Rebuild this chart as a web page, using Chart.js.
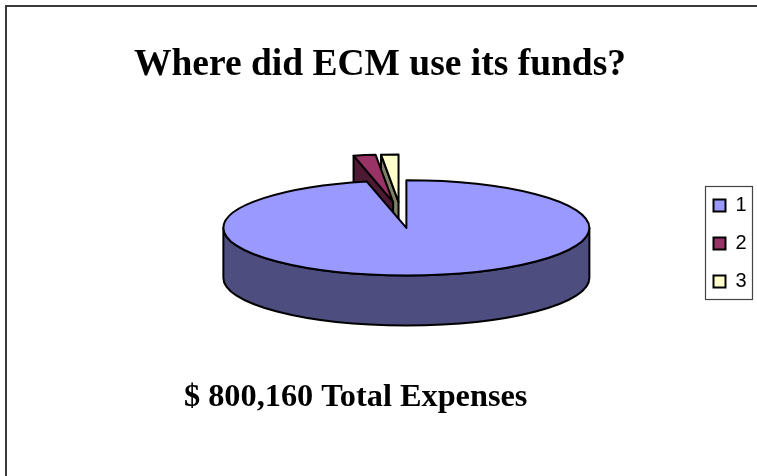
<!DOCTYPE html>
<html>
<head>
<meta charset="utf-8">
<style>
html,body{margin:0;padding:0;background:#fff;overflow:hidden}
#wrap{position:relative;width:757px;height:476px}
</style>
<script src="https://cdn.jsdelivr.net/npm/chart.js@4/dist/chart.umd.js"></script>
</head>
<body>
<div id="wrap"><canvas id="c" width="757" height="476"></canvas></div>
<script>
const categories = ['1', '2', '3'];
const expenses = [772400, 15560, 12200];
const titleText = 'Where did ECM use its funds?';
const totalText = '$ 800,160 Total Expenses';

const topColors = ['#9999FF', '#993366', '#FFFFCC'];
const sideColors = ['#4D4D80', '#4D1933', '#808066'];
const SQUASH = 0.26, DEPTH = 50, EXPLODE = 50, RADIUS = 183;

const pie3d = {
  id: 'pie3d',
  afterLayout(chart) {
    const lg = chart.legend;
    const w = lg.width, h = lg.height;
    lg.left = 695.5; lg.right = 695.5 + w; lg.top = 177.5; lg.bottom = 177.5 + h;
    chart.boxes.forEach(b => {
      if (b.options && b.options.text === totalText) b.left = 184;
      if (b.options && b.options.text === titleText) { b.left = 3; b.right = 757; }
    });
  },
  beforeDraw(chart) {
    const ctx = chart.ctx;
    ctx.save();
    ctx.strokeStyle = '#3a3a3a';
    ctx.lineWidth = 2;
    ctx.beginPath();
    ctx.moveTo(6, 476); ctx.lineTo(6, 6); ctx.lineTo(757, 6);
    ctx.stroke();
    ctx.lineWidth = 1.2;
    ctx.strokeStyle = '#444';
    ctx.strokeRect(705.5, 186.5, 47, 113);
    ctx.restore();
  },
  beforeDatasetsDraw(chart) {
    const ctx = chart.ctx;
    const arcs = chart.getDatasetMeta(0).data;
    ctx.save();
    ctx.lineJoin = 'round';
    ctx.lineWidth = 2;
    ctx.strokeStyle = '#000';
    const geom = arcs.map(a => {
      const mid = (a.startAngle + a.endAngle) / 2;
      return {
        a, r: a.outerRadius,
        x: a.x + Math.cos(mid) * EXPLODE,
        y: a.y + Math.sin(mid) * EXPLODE * SQUASH
      };
    });
    const pt = (g, ang) => [g.x + Math.cos(ang) * g.r, g.y + Math.sin(ang) * g.r * SQUASH];
    const shape = (fill) => { ctx.fillStyle = fill; ctx.fill(); ctx.stroke(); };
    // exploded back wedges first, large slice last
    [2, 1, 0].forEach(i => {
      const g = geom[i], a = g.a;
      if (i !== 0) {
        const p = pt(g, a.startAngle);
        ctx.beginPath();
        ctx.moveTo(p[0], p[1]);
        ctx.lineTo(g.x, g.y);
        ctx.lineTo(g.x, g.y + DEPTH);
        ctx.lineTo(p[0], p[1] + DEPTH);
        ctx.closePath();
        shape(sideColors[i]);
      } else {
        ctx.beginPath();
        ctx.ellipse(g.x, g.y, g.r, g.r * SQUASH, 0, Math.PI, 0, true);
        ctx.lineTo(g.x + g.r, g.y + DEPTH);
        ctx.ellipse(g.x, g.y + DEPTH, g.r, g.r * SQUASH, 0, 0, Math.PI, false);
        ctx.closePath();
        shape(sideColors[i]);
      }
      ctx.beginPath();
      ctx.moveTo(g.x, g.y);
      ctx.ellipse(g.x, g.y, g.r, g.r * SQUASH, 0, a.startAngle, a.endAngle, false);
      ctx.closePath();
      shape(topColors[i]);
    });
    ctx.restore();
    return false;
  }
};

new Chart(document.getElementById('c'), {
  type: 'pie',
  data: {
    labels: categories,
    datasets: [{ data: expenses, backgroundColor: topColors, borderColor: '#000', borderWidth: 1.5 }]
  },
  plugins: [pie3d],
  options: {
    responsive: false,
    animation: false,
    radius: RADIUS,
    layout: { padding: { left: 106, right: 0, top: 0, bottom: 0 } },
    plugins: {
      tooltip: { enabled: false },
      title: {
        display: true, text: titleText, color: '#000', align: 'center', position: 'top',
        font: { family: '"Liberation Serif"', size: 37.5, weight: 'bold' },
        padding: { top: 43, bottom: 0 }
      },
      subtitle: {
        display: true, text: totalText, color: '#000', align: 'start', position: 'bottom',
        font: { family: '"Liberation Serif"', size: 32.3, weight: 'bold' },
        padding: { top: 36.6, bottom: 58.6 }
      },
      legend: {
        display: true, position: 'right', align: 'start',
        labels: {
          color: '#000', boxWidth: 12, boxHeight: 12, padding: 18,
          font: { family: '"Liberation Sans"', size: 20 },
          generateLabels(chart) {
            return chart.data.labels.map((t, i) => ({
              text: t, fillStyle: topColors[i], strokeStyle: '#000', lineWidth: 2, index: i, hidden: false
            }));
          }
        }
      }
    }
  }
});
</script>
</body>
</html>
